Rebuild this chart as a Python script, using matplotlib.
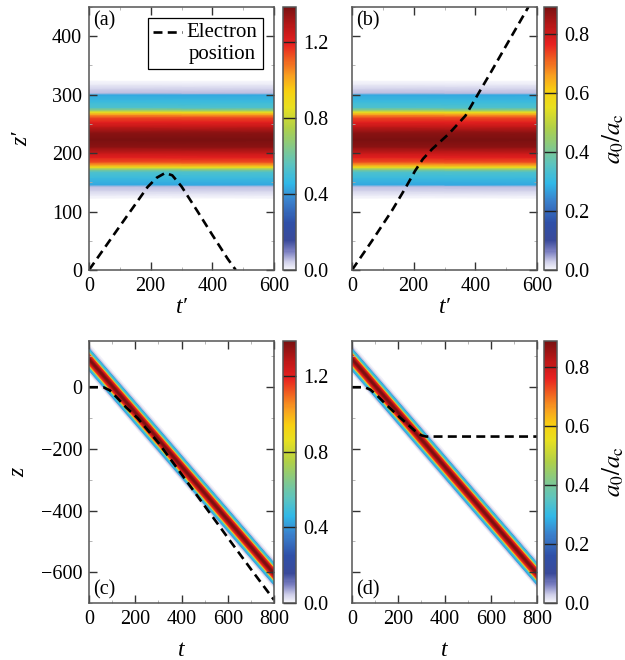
import numpy as np
import matplotlib
matplotlib.use("Agg")
import matplotlib.pyplot as plt
from matplotlib.colors import LinearSegmentedColormap
from matplotlib.ticker import AutoMinorLocator

plt.rcParams['font.family'] = ['Liberation Serif', 'DejaVu Serif']
plt.rcParams['mathtext.fontset'] = 'stix'

# colour scale for a0/ac (fraction of max -> colour)
cmap_pos = [0.0, 0.03, 0.07, 0.11, 0.18, 0.26, 0.33, 0.40, 0.46, 0.54,
            0.62, 0.68, 0.74, 0.80, 0.86, 0.92, 1.0]
cmap_col = ['#f6f6fb', '#d0d0ea', '#7a7ec0', '#3a4a9a', '#2f50a8', '#3a80cc',
            '#30b8e8', '#5cc4c0', '#80c890', '#b0d048', '#e8e020', '#f8d010',
            '#f8a020', '#f06020', '#e82020', '#c01818', '#7a1010']

# pulse profile across the pulse (panel a): distance from centre, fraction of peak
prof_off = [0, 12, 23, 30, 38, 43, 47, 51, 55, 65, 77, 80, 87, 95, 100]
prof_val = [1.0, 0.98, 0.91, 0.87, 0.82, 0.74, 0.63, 0.48, 0.38, 0.35, 0.31,
            0.04, 0.028, 0.008, 0.0]

peak_left = 1.385    # panels (a), (c)
peak_right = 0.89    # panels (b), (d)
centre_zp = 223      # pulse centre in z'
centre_z0 = 93       # pulse centre in z at t = 0
pulse_slope = -0.87  # dz/dt of the pulse in the lab frame
lab_scale = 0.48     # pulse width in z relative to z'

# electron trajectories
ta = [0, 100, 190, 220, 247, 270, 300, 350, 400, 450, 476]
za = [0, 75, 142, 158, 166, 162, 143, 102, 60, 19, 0]
tb = [0, 65, 130, 173, 205, 230, 260, 314, 368, 400, 450, 500, 572]
zb = [0, 50, 102, 140, 170, 190, 207, 233, 264, 293, 338, 384, 450]
tc = [0, 62, 90, 120, 160, 210, 300, 400, 500, 600, 700, 800]
zc = [0, 0, -10, -33, -65, -100, -180, -282, -385, -488, -590, -690]
td = [0, 55, 80, 110, 150, 210, 270, 300, 320, 800]
zd = [0, 0, -8, -28, -58, -100, -140, -156, -160, -160]

cmap = LinearSegmentedColormap.from_list('a0', list(zip(cmap_pos, cmap_col)))

off = np.concatenate([-np.array(prof_off[::-1]), np.array(prof_off[1:])])
val = np.concatenate([np.array(prof_val[::-1]), np.array(prof_val[1:])])

W, H = 625, 660
fig = plt.figure(figsize=(W / 100, H / 100), dpi=100)
TICK_FS = 14.5
LAB_FS = 17


def box(x0, y0, x1, y1):
    # pixel box -> figure fraction rect
    return [x0 / W, 1 - y1 / H, (x1 - x0) / W, (y1 - y0) / H]


def style(ax, xlim, xticks, ylim, yticks, labelleft):
    ax.set_xlim(xlim)
    ax.set_ylim(ylim)
    ax.set_xticks(xticks)
    ax.set_yticks(yticks)
    ax.xaxis.set_minor_locator(AutoMinorLocator(2))
    ax.yaxis.set_minor_locator(AutoMinorLocator(2))
    ax.tick_params(which='both', direction='in', top=True, right=True)
    ax.tick_params(which='major', length=6, width=1, color='#333',
                   labelsize=TICK_FS, pad=5)
    ax.tick_params(which='minor', length=2.5, width=0.6, color='#aaa')
    ax.tick_params(axis='y', labelleft=labelleft)
    for s in ax.spines.values():
        s.set_color('#555')
        s.set_linewidth(1.1)


def moving_field(ax, peak):
    X = np.tile([0.0, 600.0], (len(off), 1))
    Y = np.column_stack([centre_zp + off, centre_zp + off])
    C = np.column_stack([val, val]) * peak
    return ax.pcolormesh(X, Y, C, shading='gouraud', cmap=cmap, vmin=0, vmax=peak)


def lab_field(ax, peak):
    t = np.array([0.0, 800.0])
    X = np.tile(t, (len(off), 1))
    Y = centre_z0 + pulse_slope * t[None, :] + lab_scale * off[:, None]
    C = np.column_stack([val, val]) * peak
    return ax.pcolormesh(X, Y, C, shading='gouraud', cmap=cmap, vmin=0, vmax=peak)


def colourbar(mesh, rect, ticks, label):
    cax = fig.add_axes(rect)
    cb = fig.colorbar(mesh, cax=cax, ticks=ticks)
    cb.outline.set_edgecolor('#555')
    cb.outline.set_linewidth(1.1)
    cax.set_yticklabels(['%.1f' % v for v in ticks])
    wpt = rect[2] * W * 0.72
    cax.tick_params(direction='in', length=wpt, width=1, color='#222',
                    labelsize=TICK_FS, pad=5)
    cax.minorticks_off()
    if label:
        cb.set_label(r'$a_0/a_{\rm c}$', fontsize=18, labelpad=8)
    return cb


def axis_label(ax, which, s, pad):
    kw = dict(fontsize=LAB_FS, style='italic', labelpad=pad)
    if which == 'x':
        ax.set_xlabel(s, **kw)
    else:
        ax.set_ylabel(s, **kw)


dash = dict(color='k', lw=1.9, ls=(0, (3.4, 2.0)))

# (a)
ax_a = fig.add_axes(box(89, 7, 274, 270))
m = moving_field(ax_a, peak_left)
ax_a.plot(ta, za, label='Electron\nposition', **dash)
style(ax_a, (0, 600), [0, 200, 400, 600], (0, 450), [0, 100, 200, 300, 400], True)
axis_label(ax_a, 'x', 't\u2032', 1)
axis_label(ax_a, 'y', 'z\u2032', 14)
ax_a.text(0.02, 0.985, '(a)', transform=ax_a.transAxes, fontsize=14.5,
          ha='left', va='top')
leg = ax_a.legend(loc='upper right', bbox_to_anchor=(0.94, 0.958),
                  borderaxespad=0, fontsize=15, fancybox=False, framealpha=1,
                  edgecolor='k', handlelength=1.35, handletextpad=0.25,
                  borderpad=0.25)
leg.get_frame().set_linewidth(0.9)
for t in leg.get_texts():
    t.set_multialignment('center')
# put the dashed sample next to the first text line
hl = leg.legend_handles[0]
hl.set_ydata(np.asarray(hl.get_ydata()) + 8.5)
colourbar(m, box(283, 7, 296, 270), [0.0, 0.4, 0.8, 1.2], False)

# (b)
ax_b = fig.add_axes(box(352, 7, 537, 270))
m = moving_field(ax_b, peak_right)
ax_b.plot(tb, zb, **dash)
style(ax_b, (0, 600), [0, 200, 400, 600], (0, 450), [0, 100, 200, 300, 400], False)
axis_label(ax_b, 'x', 't\u2032', 1)
ax_b.text(0.02, 0.985, '(b)', transform=ax_b.transAxes, fontsize=14.5,
          ha='left', va='top')
colourbar(m, box(544, 7, 557, 270), [0.0, 0.2, 0.4, 0.6, 0.8], True)

# (c)
ax_c = fig.add_axes(box(89, 341, 274, 603))
m = lab_field(ax_c, peak_left)
ax_c.plot(tc, zc, **dash)
style(ax_c, (0, 800), [0, 200, 400, 600, 800], (-700, 150),
      [-600, -400, -200, 0], True)
axis_label(ax_c, 'x', 't', 8)
axis_label(ax_c, 'y', 'z', 8)
ax_c.text(0.02, 0.015, '(c)', transform=ax_c.transAxes, fontsize=14.5,
          ha='left', va='bottom')
colourbar(m, box(283, 341, 296, 603), [0.0, 0.4, 0.8, 1.2], False)

# (d)
ax_d = fig.add_axes(box(352, 341, 537, 603))
m = lab_field(ax_d, peak_right)
ax_d.plot(td, zd, **dash)
style(ax_d, (0, 800), [0, 200, 400, 600, 800], (-700, 150),
      [-600, -400, -200, 0], False)
axis_label(ax_d, 'x', 't', 8)
ax_d.text(0.02, 0.015, '(d)', transform=ax_d.transAxes, fontsize=14.5,
          ha='left', va='bottom')
colourbar(m, box(544, 341, 557, 603), [0.0, 0.2, 0.4, 0.6, 0.8], True)

fig.savefig('out.png', dpi=100)
